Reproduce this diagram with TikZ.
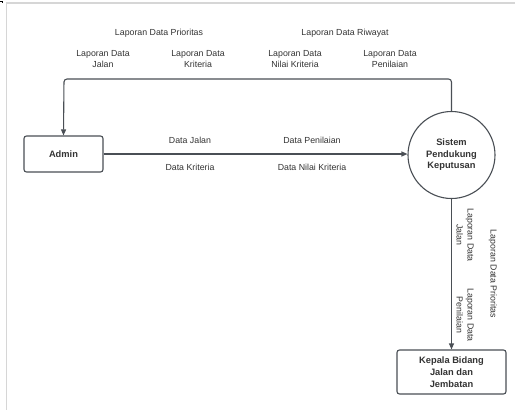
\documentclass[tikz,border=0pt]{standalone}
\usepackage{fontspec}
\setmainfont{Liberation Sans}
\usetikzlibrary{arrows.meta}
\definecolor{ln}{HTML}{4A4F55}
\definecolor{tx}{HTML}{333333}
\definecolor{frm}{HTML}{D6D6D6}
\tikzset{
  boxnode/.style={draw=ln, line width=1.1pt, rounded corners=2.5pt, text=tx, font=\fontsize{9.3}{12}\selectfont\bfseries, align=center, inner sep=0pt},
  procnode/.style={draw=ln, line width=1.1pt, circle, text=tx, font=\fontsize{9.3}{11.5}\selectfont\bfseries, align=center, inner sep=0pt, minimum size=87pt},
  lbl/.style={text=tx, font=\fontsize{8.8}{11}\selectfont, align=center, inner sep=0pt},
  flow/.style={draw=ln, line width=1.1pt, -{Triangle[length=6pt,width=5pt]}},
}
\begin{document}
\begin{tikzpicture}[x=1pt,y=-1pt]
\useasboundingbox (0,0) rectangle (515,410);
% frame
\draw[frm, line width=1.6pt] (515,3) -- (6.5,3) -- (6.5,410);
\draw[black, line width=0.6pt] (0,0.8) -- (2.5,0.8) -- (2.5,2.5);
% nodes
\node[boxnode, minimum width=79pt, minimum height=36pt] (admin) at (63.5,154) {Admin};
\node[procnode] (sys) at (451.5,155) {Sistem\\Pendukung\\Keputusan};
\node[boxnode, minimum width=109pt, minimum height=44pt] (kep) at (451.5,372) {Kepala Bidang\\Jalan dan\\Jembatan};
% connectors
\coordinate (c1) at (451.5,79);
\coordinate (c2) at (64,79);
\draw[flow, rounded corners=3pt] (sys.north) -- (c1) -- (c2) -- (admin.north);
\draw[flow] (admin.east) -- (admin.east -| sys.west);
\draw[flow] (sys.south) -- (kep.north);
% top labels
\node[lbl] (l1) at (159,33) {Laporan Data Prioritas};
\node[lbl] (l2) at (345,33) {Laporan Data Riwayat};
\node[lbl] (l3) at (103,59.5) {Laporan Data\\Jalan};
\node[lbl] (l4) at (198,59.5) {Laporan Data\\Kriteria};
\node[lbl] (l5) at (295,59.5) {Laporan Data\\Nilai Kriteria};
\node[lbl] (l6) at (390,59.5) {Laporan Data\\Penilaian};
% middle labels
\node[lbl] (m1) at (190,140) {Data Jalan};
\node[lbl] (m2) at (312,140) {Data Penilaian};
\node[lbl] (m3) at (190,167) {Data Kriteria};
\node[lbl] (m4) at (312,167) {Data Nilai Kriteria};
% vertical labels
\node[lbl, rotate=-90] (v1) at (465,235) {Laporan Data\\Jalan};
\node[lbl, rotate=-90] (v2) at (465,315) {Laporan Data\\Penilaian};
\node[lbl, rotate=-90] (v3) at (493,274) {Laporan Data Prioritas};
\end{tikzpicture}
\end{document}
